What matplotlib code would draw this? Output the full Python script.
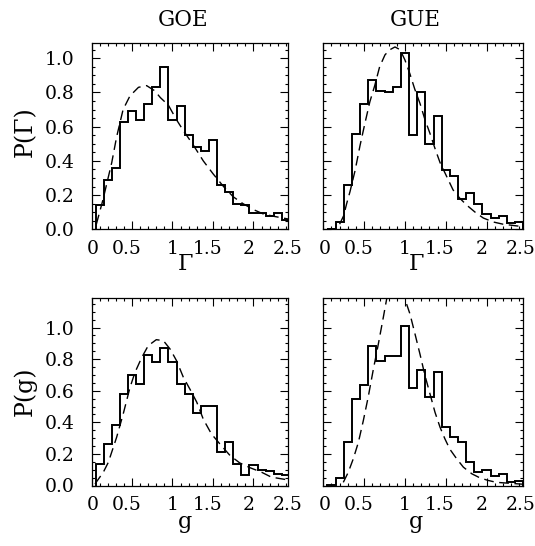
import numpy as np
import matplotlib
matplotlib.use("Agg")
import matplotlib.pyplot as plt
from matplotlib.ticker import MultipleLocator
from matplotlib.transforms import blended_transform_factory

plt.rcParams['font.family'] = ['DejaVu Serif']
plt.rcParams['mathtext.fontset'] = 'dejavuserif'

# histogram bins: width 0.1, centred on 0.1 ... 2.4
bin_edges = np.arange(0.05, 2.46, 0.1)

# GOE, widths
goe_gamma = [0.14, 0.29, 0.36, 0.63, 0.69, 0.64, 0.73, 0.83, 0.95, 0.64,
             0.72, 0.55, 0.48, 0.46, 0.52, 0.26, 0.22, 0.15, 0.14, 0.094,
             0.094, 0.078, 0.094, 0.054]
# GUE, widths
gue_gamma = [0.0, 0.045, 0.26, 0.56, 0.73, 0.875, 0.81, 0.80, 0.83, 1.03,
             0.55, 0.80, 0.50, 0.66, 0.345, 0.31, 0.18, 0.21, 0.15, 0.09,
             0.065, 0.075, 0.035, 0.045]
# GOE, conductances
goe_g = [0.137, 0.26, 0.38, 0.58, 0.70, 0.64, 0.826, 0.78, 0.868, 0.78,
         0.64, 0.58, 0.457, 0.506, 0.506, 0.21, 0.274, 0.137, 0.066, 0.13,
         0.095, 0.09, 0.07, 0.065]
# GUE, conductances
gue_g = [0.005, 0.046, 0.274, 0.548, 0.636, 0.88, 0.79, 0.818, 0.818, 1.01,
         0.617, 0.73, 0.558, 0.716, 0.369, 0.31, 0.274, 0.147, 0.088, 0.095,
         0.063, 0.074, 0.025, 0.03]

# theory curves (dashed)
goe_gamma_x = [0.06, 0.10, 0.14, 0.21, 0.25, 0.31, 0.39, 0.475, 0.58, 0.68,
               0.78, 0.85, 0.95, 1.05, 1.13, 1.26, 1.38, 1.50, 1.63, 1.75,
               1.87, 2.0, 2.12, 2.25, 2.43]
goe_gamma_y = [0.03, 0.10, 0.17, 0.31, 0.39, 0.54, 0.70, 0.78, 0.83, 0.84,
               0.81, 0.77, 0.725, 0.64, 0.58, 0.49, 0.40, 0.325, 0.25, 0.19,
               0.15, 0.115, 0.09, 0.076, 0.06]

gue_gamma_x = [0.20, 0.25, 0.286, 0.327, 0.39, 0.45, 0.51, 0.57, 0.63, 0.69,
               0.756, 0.817, 0.878, 0.94, 1.0, 1.06, 1.12, 1.185, 1.246,
               1.307, 1.37, 1.43, 1.51, 1.59, 1.675, 1.76, 1.86, 1.96, 2.08,
               2.2, 2.45]
gue_gamma_y = [0.03, 0.08, 0.15, 0.22, 0.345, 0.49, 0.62, 0.745, 0.84, 0.95,
               1.02, 1.05, 1.066, 1.05, 0.99, 0.91, 0.82, 0.735, 0.64, 0.56,
               0.47, 0.39, 0.31, 0.23, 0.18, 0.14, 0.10, 0.066, 0.043, 0.03,
               0.015]

goe_g_x = [0.043, 0.146, 0.208, 0.31, 0.39, 0.475, 0.537, 0.62, 0.70, 0.80,
           0.887, 0.97, 1.05, 1.134, 1.215, 1.30, 1.38, 1.48, 1.59, 1.71,
           1.83, 1.96, 2.10, 2.22, 2.43]
goe_g_y = [0.01, 0.084, 0.147, 0.305, 0.45, 0.62, 0.716, 0.81, 0.885, 0.923,
           0.917, 0.864, 0.79, 0.685, 0.61, 0.527, 0.42, 0.327, 0.26, 0.19,
           0.143, 0.112, 0.084, 0.053, 0.035]

gue_g_x = [0.245, 0.306, 0.368, 0.43, 0.49, 0.55, 0.61, 0.674, 0.735, 0.776,
           0.84, 0.89, 0.95, 1.0, 1.062, 1.123, 1.185, 1.246, 1.307, 1.368,
           1.43, 1.49, 1.55, 1.634, 1.716, 1.82, 1.92, 2.02, 2.12, 2.45]
gue_g_y = [0.02, 0.084, 0.17, 0.274, 0.41, 0.56, 0.727, 0.895, 1.064, 1.18,
           1.25, 1.27, 1.25, 1.18, 1.085, 0.96, 0.83, 0.695, 0.58, 0.464,
           0.369, 0.295, 0.23, 0.169, 0.116, 0.074, 0.048, 0.032, 0.02, 0.008]

xtick_text = ['0', '0.5', '1', '1.5', '2', '2.5']
xtick_pos = [0.02, 0.43, 1.0, 1.43, 1.94, 2.42]

fig = plt.figure(figsize=(5.35, 5.46), dpi=100)
W, H = 535.0, 546.0


def make_axes(x0, x1, ytop, ybot):
    return fig.add_axes([x0 / W, 1 - ybot / H, (x1 - x0) / W, (ybot - ytop) / H])


panels = [
    (make_axes(91.5, 288, 42.5, 229.3), goe_gamma, goe_gamma_x, goe_gamma_y, 2.426, 1.092, True),
    (make_axes(323.3, 523.3, 42.5, 229.3), gue_gamma, gue_gamma_x, gue_gamma_y, 2.45, 1.092, False),
    (make_axes(91.5, 288, 297.5, 485.5), goe_g, goe_g_x, goe_g_y, 2.426, 1.19, True),
    (make_axes(323.3, 523.3, 297.5, 485.5), gue_g, gue_g_x, gue_g_y, 2.45, 1.19, False),
]

for ax, hist, cx, cy, xmax, ymax, left in panels:
    ax.stairs(hist, bin_edges, baseline=0, color='black', lw=1.4)
    ax.plot(cx, cy, color='black', lw=1.0, dashes=(7, 4))
    ax.set_xlim(0, xmax)
    ax.set_ylim(0, ymax)
    ax.xaxis.set_major_locator(MultipleLocator(0.5))
    ax.xaxis.set_minor_locator(MultipleLocator(0.1))
    ax.yaxis.set_major_locator(MultipleLocator(0.2))
    ax.yaxis.set_minor_locator(MultipleLocator(0.05))
    ax.tick_params(which='both', direction='in', top=True, right=True,
                   labelbottom=False, labelleft=left, width=0.8,
                   labelsize=13.5, pad=12)
    ax.tick_params(which='major', length=6)
    ax.tick_params(which='minor', length=2.5)
    ax.yaxis.set_major_formatter(matplotlib.ticker.FormatStrFormatter('%.1f'))
    for s in ax.spines.values():
        s.set_linewidth(0.9)
    trans = blended_transform_factory(ax.transData, ax.transAxes)
    for pos, txt in zip(xtick_pos, xtick_text):
        ax.text(pos, -0.055, txt, transform=trans, ha='center', va='top',
                fontsize=13.5)

fig.text(183 / W, 1 - 20 / H, 'GOE', ha='center', va='center', fontsize=15.5)
fig.text(415 / W, 1 - 20 / H, 'GUE', ha='center', va='center', fontsize=15.5)
fig.text(185 / W, 1 - 264 / H, 'Γ', ha='center', va='center', fontsize=16)
fig.text(416 / W, 1 - 264 / H, 'Γ', ha='center', va='center', fontsize=16)
fig.text(185 / W, 1 - 522 / H, 'g', ha='center', va='center', fontsize=16)
fig.text(416 / W, 1 - 522 / H, 'g', ha='center', va='center', fontsize=16)
fig.text(25 / W, 1 - 132 / H, 'P(Γ)', ha='center', va='center',
         rotation=90, fontsize=17)
fig.text(25 / W, 1 - 391 / H, 'P(g)', ha='center', va='center',
         rotation=90, fontsize=17)

fig.savefig('out.png', dpi=100)
